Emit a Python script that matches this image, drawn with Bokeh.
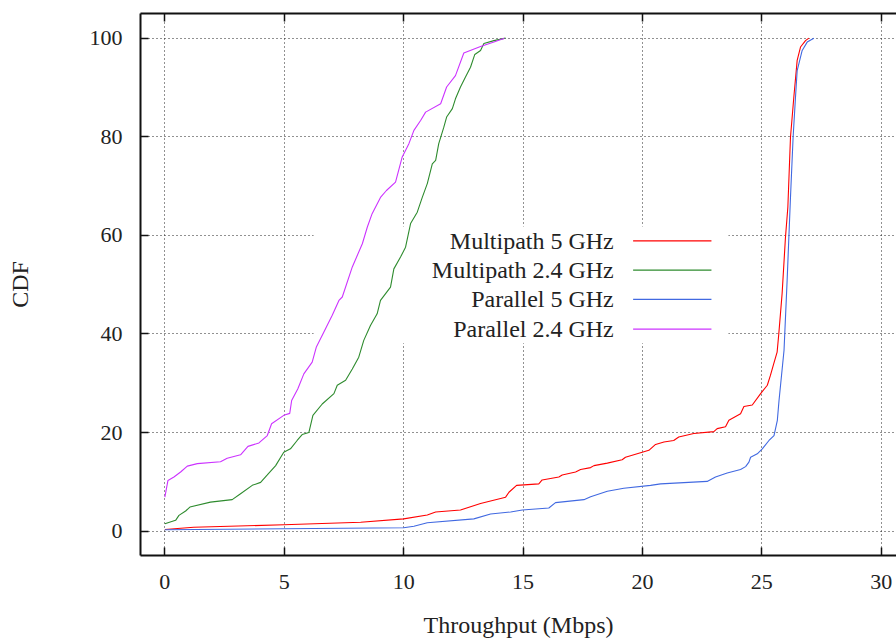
from bokeh.plotting import figure
from bokeh.models import Range1d, FixedTicker, LinearAxis
from bokeh.core.properties import value
from bokeh.embed import file_html
from bokeh.resources import INLINE

# ---------------- data ----------------
x_ticks = [0, 5, 10, 15, 20, 25, 30]
y_ticks = [0, 20, 40, 60, 80, 100]

series_names = ["Multipath 5 GHz", "Multipath 2.4 GHz", "Parallel 5 GHz", "Parallel 2.4 GHz"]
series_colors = ["#ff0000", "#2e8b2e", "#4169e1", "#cc33ff"]

mp5_x = [0, 1.21, 4.98, 8.2, 10.0, 10.99, 11.34, 12.38, 13.22, 14.27, 14.41, 14.73, 15.66, 15.80,
         16.5, 16.64, 17.2, 17.41, 17.83, 17.97, 18.53, 19.15, 19.29, 19.99, 20.27, 20.55, 20.9,
         21.31, 21.52, 22.15, 22.99, 23.13, 23.48, 23.62, 24.11, 24.25, 24.6, 24.95, 25.23, 25.36,
         25.5, 25.64, 25.71, 25.85, 25.99, 26.09, 26.2, 26.34, 26.48, 26.62, 26.83, 26.97]
mp5_y = [0.35, 0.8, 1.3, 1.8, 2.5, 3.3, 3.9, 4.3, 5.6, 6.9, 7.9, 9.3, 9.6, 10.4,
         11.0, 11.4, 12.0, 12.5, 12.9, 13.3, 13.8, 14.5, 15.0, 16.0, 16.4, 17.6, 18.1,
         18.4, 19.1, 19.8, 20.2, 20.8, 21.2, 22.5, 23.8, 25.3, 25.6, 27.9, 29.6, 31.6,
         34.0, 36.3, 40.0, 48.2, 59.6, 65.7, 79.9, 88.0, 95.5, 98.2, 99.5, 100]

mp24_x = [0, 0.45, 0.59, 0.87, 1.05, 1.91, 2.82, 3.17, 3.66, 4.01, 4.29, 4.64, 4.98, 5.26,
          5.54, 5.75, 6.03, 6.20, 6.59, 7.08, 7.22, 7.57, 7.85, 8.12, 8.33, 8.61, 8.89, 9.03,
          9.45, 9.59, 9.87, 10.08, 10.29, 10.57, 10.78, 10.99, 11.20, 11.34, 11.47, 11.68,
          11.80, 12.04, 12.17, 12.38, 12.59, 12.80, 12.98, 13.22, 13.36, 13.78, 14.27]
mp24_y = [1.5, 2.2, 3.2, 4.1, 4.9, 5.9, 6.4, 7.6, 9.3, 9.9, 11.4, 13.3, 16.0, 16.7,
          18.4, 19.6, 20.0, 23.5, 25.8, 27.9, 29.6, 30.6, 32.9, 35.3, 38.7, 41.7, 44.1, 46.8,
          49.5, 53.2, 55.6, 57.6, 62.4, 64.7, 67.7, 70.5, 74.5, 75.2, 78.6, 81.9,
          84.0, 85.7, 87.7, 90.1, 92.1, 94.1, 96.7, 97.5, 98.9, 99.5, 100]

par5_x = [0, 4.98, 10.0, 10.43, 10.99, 12.94, 13.64, 14.48, 14.97, 16.08, 16.36, 17.55, 17.83,
          18.53, 19.22, 20.34, 20.76, 22.71, 23.06, 23.55, 24.11, 24.32, 24.46, 24.53, 24.81,
          25.02, 25.3, 25.51, 25.65, 25.72, 25.79, 25.93, 26.06, 26.2, 26.31, 26.41, 26.48,
          26.69, 26.9, 27.18]
par5_y = [0.3, 0.5, 0.7, 1.0, 1.7, 2.5, 3.5, 3.9, 4.3, 4.7, 5.8, 6.4, 7.0,
          8.1, 8.7, 9.3, 9.6, 10.1, 11.0, 11.8, 12.5, 13.1, 14.0, 15.0, 15.7,
          16.7, 18.4, 19.4, 22.5, 26.5, 29.9, 36.7, 50.9, 67.7, 79.9, 88.0, 93.4,
          97.5, 99.2, 100]

par24_x = [0, 0.13, 0.38, 0.66, 0.94, 1.36, 2.33, 2.61, 3.17, 3.48, 3.94, 4.29, 4.47, 4.98,
           5.23, 5.31, 5.57, 5.82, 6.17, 6.34, 6.66, 7.01, 7.29, 7.43, 7.85, 8.27, 8.48, 8.68,
           9.03, 9.28, 9.66, 9.94, 10.22, 10.43, 10.71, 10.92, 11.55, 11.80, 12.17, 12.52,
           13.22, 13.78, 14.22]
par24_y = [6.9, 10.3, 11.0, 12.0, 13.2, 13.7, 14.1, 14.8, 15.5, 17.2, 17.9, 19.4, 21.8, 23.5,
           23.9, 26.5, 28.9, 31.9, 34.3, 37.3, 40.4, 43.8, 46.8, 47.5, 53.6, 58.3, 61.7, 64.4,
           67.7, 69.1, 70.8, 75.9, 78.6, 81.3, 83.3, 85.0, 86.7, 90.1, 92.4, 97.0,
           98.3, 99.2, 100]

series_x = [mp5_x, mp24_x, par5_x, par24_x]
series_y = [mp5_y, mp24_y, par5_y, par24_y]

# ---------------- layout / style ----------------
FONT = "Liberation Serif"
FS_TICK = "22px"
FS_TEXT = "24px"

p = figure(width=896, height=641,
           x_range=Range1d(-1.02, 30.64), y_range=Range1d(-4.93, 105.0),
           output_backend="svg", toolbar_location=None,
           min_border_left=140, min_border_right=0,
           min_border_top=13, min_border_bottom=86)
p.outline_line_color = None
p.background_fill_color = "white"
p.border_fill_color = "white"

xt = FixedTicker(ticks=x_ticks)
yt = FixedTicker(ticks=y_ticks)

bottom_axis = p.below[0]
left_axis = p.left[0]
bottom_axis.ticker = xt
left_axis.ticker = yt
p.xgrid.ticker = xt
p.ygrid.ticker = yt

top_axis = LinearAxis(ticker=xt, major_label_overrides={t: "" for t in x_ticks})
p.add_layout(top_axis, "above")

for ax in [bottom_axis, left_axis, top_axis]:
    ax.axis_line_color = "#111111"
    ax.axis_line_width = 2
    ax.major_tick_in = 8
    ax.major_tick_out = 0
    ax.major_tick_line_color = "#111111"
    ax.major_tick_line_width = 1.5
    ax.minor_tick_line_color = None
    ax.major_label_text_font = FONT
    ax.major_label_text_font_size = FS_TICK
    ax.major_label_text_color = "#222222"
    ax.axis_label_text_font = FONT
    ax.axis_label_text_font_size = FS_TEXT
    ax.axis_label_text_font_style = "normal"
    ax.axis_label_text_color = "#222222"

top_axis.major_label_standoff = 0

bottom_axis.axis_label = "Throughput (Mbps)"
bottom_axis.major_label_standoff = 19
bottom_axis.axis_label_standoff = 20
left_axis.axis_label = "CDF"
left_axis.major_label_standoff = 18
left_axis.axis_label_standoff = 54

for g in [p.xgrid[0], p.ygrid[0]]:
    g.grid_line_color = "#222222"
    g.grid_line_dash = "1 3"
    g.grid_line_width = 1

# legend box (opaque, hides grid like gnuplot key)
key_left, key_right, key_bottom, key_top = 6.23, 23.6, 38.1, 61.8
p.quad(left=[key_left], right=[key_right], bottom=[key_bottom], top=[key_top],
       fill_color="white", line_color=None)

for xs, ys, c in zip(series_x, series_y, series_colors):
    p.line(xs, ys, line_color=c, line_width=1.1)

# legend entries: label right-aligned, sample line to the right
key_text_x = 18.8
key_line_x0, key_line_x1 = 19.61, 22.89
key_rows_y = [58.9, 52.96, 47.0, 41.0]

p.text(x=[key_text_x] * 4, y=key_rows_y, text=series_names,
       text_align="right", text_baseline="middle",
       text_font=value(FONT), text_font_size=FS_TEXT, text_color="#222222")
p.segment(x0=[key_line_x0] * 4, x1=[key_line_x1] * 4, y0=key_rows_y, y1=key_rows_y,
          line_color=series_colors, line_width=1.2)

open("out.html", "w").write(file_html(p, INLINE))
